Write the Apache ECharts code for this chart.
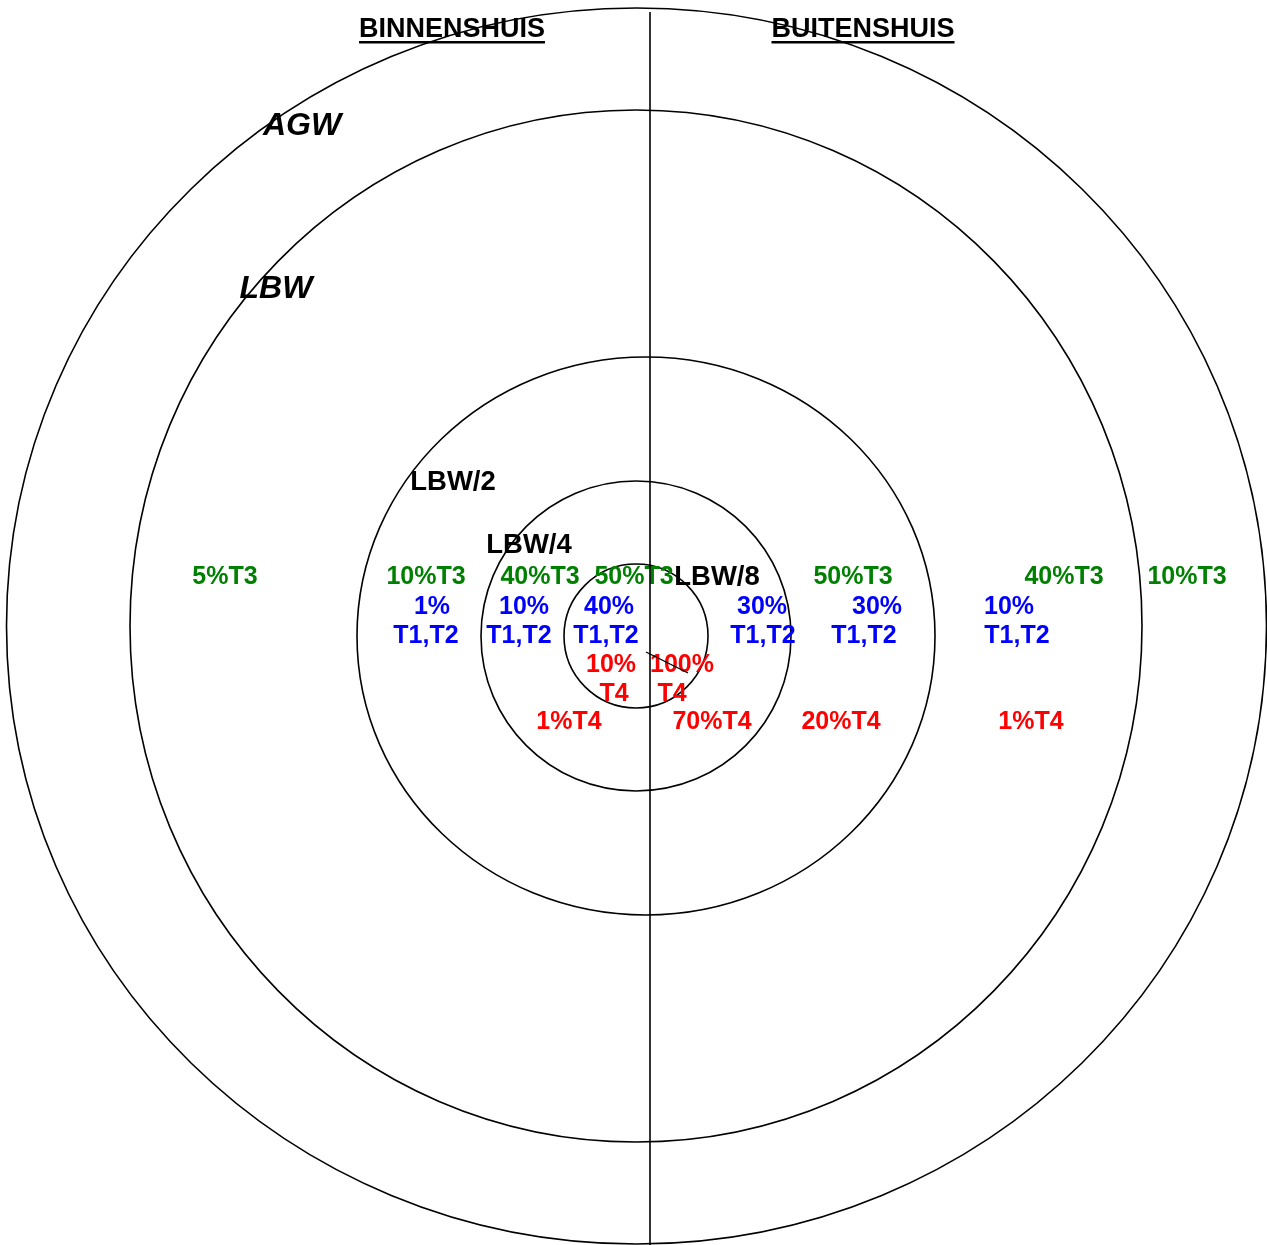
<!DOCTYPE html>
<html><head><meta charset="utf-8">
<script src="https://cdn.jsdelivr.net/npm/echarts@6/dist/echarts.min.js"></script>
<style>html,body{margin:0;padding:0;background:#fff}#c{width:1267px;height:1245px}</style>
</head><body><div id="c"></div>
<script>
// Rings (zone boundaries), in chart units centred on the target
const ringNames = ['AGW', 'LBW', 'LBW/2', 'LBW/4', 'LBW/8'];
const ringCx = [0.5, 0, 10, 0, 0];
const ringCy = [10, 10, 0, 0, 0];
const ringRx = [630, 506, 289, 155, 72];
const ringRy = [618, 516, 279, 155, 72];

// Divider between indoor / outdoor
const dividerX = [14, 14];
const dividerY = [624, -609];
// small pointer stroke near the centre
const pointerX = [10, 52];
const pointerY = [-16, -37];

// Headings
const headerText = ['BINNENSHUIS', 'BUITENSHUIS'];
const headerX = [-184, 227];
const headerY = [609, 609];

// Zone names
const zoneText = ['AGW', 'LBW'];
const zoneX = [-334, -360];
const zoneY = [512, 349];
const ringLabelText = ['LBW/2', 'LBW/4', 'LBW/8'];
const ringLabelX = [-183, -107, 81];
const ringLabelY = [156, 93, 61];

// T3 percentages (green)
const t3Text = ['5%T3', '10%T3', '40%T3', '50%T3', '50%T3', '40%T3', '10%T3'];
const t3X = [-411, -210, -96, -2, 217, 428, 551];
const t3Y = [61, 61, 61, 61, 61, 61, 61];

// T1,T2 percentages (blue)
const t12Pct = ['1%', '10%', '40%', '30%', '30%', '10%'];
const t12PctX = [-204, -112, -27, 126, 241, 373];
const t12PctY = [31, 31, 31, 31, 31, 31];
const t12Name = ['T1,T2', 'T1,T2', 'T1,T2', 'T1,T2', 'T1,T2', 'T1,T2'];
const t12NameX = [-210, -117, -30, 127, 228, 381];
const t12NameY = [2, 2, 2, 2, 2, 2];

// T4 percentages (red)
const t4Text = ['10%', 'T4', '100%', 'T4', '1%T4', '70%T4', '20%T4', '1%T4'];
const t4X = [-25, -22, 46, 36, -67, 76, 205, 395];
const t4Y = [-27, -56, -27, -56, -84, -84, -84, -84];

const FONT = '"Liberation Sans", Arial, sans-serif';
const chart = echarts.init(document.getElementById('c'), null, {renderer: 'canvas'});

const measureCtx = document.createElement('canvas').getContext('2d');

function textSeries(name, texts, xs, ys, font, color, underline, dy) {
  return {
    type: 'custom', name: name, coordinateSystem: 'cartesian2d', silent: true,
    data: texts.map((t, i) => [xs[i], ys[i]]),
    renderItem: function (params, api) {
      const p = api.coord([api.value(0), api.value(1)]);
      const txt = texts[params.dataIndex];
      const y = p[1] + dy;
      const children = [{
        type: 'text',
        style: {text: txt, x: p[0], y: y, fill: color, font: font, align: 'center', verticalAlign: 'middle'}
      }];
      if (underline) {
        measureCtx.font = font;
        const w = measureCtx.measureText(txt).width;
        children.push({type: 'rect', shape: {x: p[0] - w / 2, y: y + 11, width: w, height: 2.6}, style: {fill: color}});
      }
      return {type: 'group', children: children};
    }
  };
}

const option = {
  backgroundColor: '#fff',
  animation: false,
  grid: {left: 0, right: 0, top: 0, bottom: 0},
  xAxis: {type: 'value', min: -636, max: 631, show: false},
  yAxis: {type: 'value', min: -609, max: 636, show: false},
  series: [
    {
      type: 'custom', name: 'rings', coordinateSystem: 'cartesian2d', silent: true,
      data: ringNames.map((n, i) => [ringCx[i], ringCy[i], ringRx[i], ringRy[i]]),
      renderItem: function (params, api) {
        const c = api.coord([api.value(0), api.value(1)]);
        const s = api.size([api.value(2), api.value(3)]);
        return {
          type: 'ellipse',
          shape: {cx: c[0], cy: c[1], rx: s[0], ry: s[1]},
          style: {fill: 'none', stroke: '#000', lineWidth: 1.6}
        };
      }
    },
    {
      type: 'line', name: 'divider', silent: true, symbol: 'none',
      data: dividerX.map((x, i) => [x, dividerY[i]]),
      lineStyle: {color: '#000', width: 1.6}
    },
    {
      type: 'line', name: 'pointer', silent: true, symbol: 'none',
      data: pointerX.map((x, i) => [x, pointerY[i]]),
      lineStyle: {color: '#000', width: 1.3}
    },
    textSeries('headers', headerText, headerX, headerY, 'bold 27px ' + FONT, '#000', true, 3),
    textSeries('zones', zoneText, zoneX, zoneY, 'italic bold 32px ' + FONT, '#000', false, 2),
    textSeries('ringLabels', ringLabelText, ringLabelX, ringLabelY, 'bold 27.5px ' + FONT, '#000', false, 2),
    textSeries('T3', t3Text, t3X, t3Y, 'bold 25px ' + FONT, '#008000', false, 2),
    textSeries('T12pct', t12Pct, t12PctX, t12PctY, 'bold 25px ' + FONT, '#0000ff', false, 2),
    textSeries('T12name', t12Name, t12NameX, t12NameY, 'bold 25px ' + FONT, '#0000ff', false, 2),
    textSeries('T4', t4Text, t4X, t4Y, 'bold 25px ' + FONT, '#ff0000', false, 2)
  ]
};
chart.setOption(option);
</script>
</body></html>
